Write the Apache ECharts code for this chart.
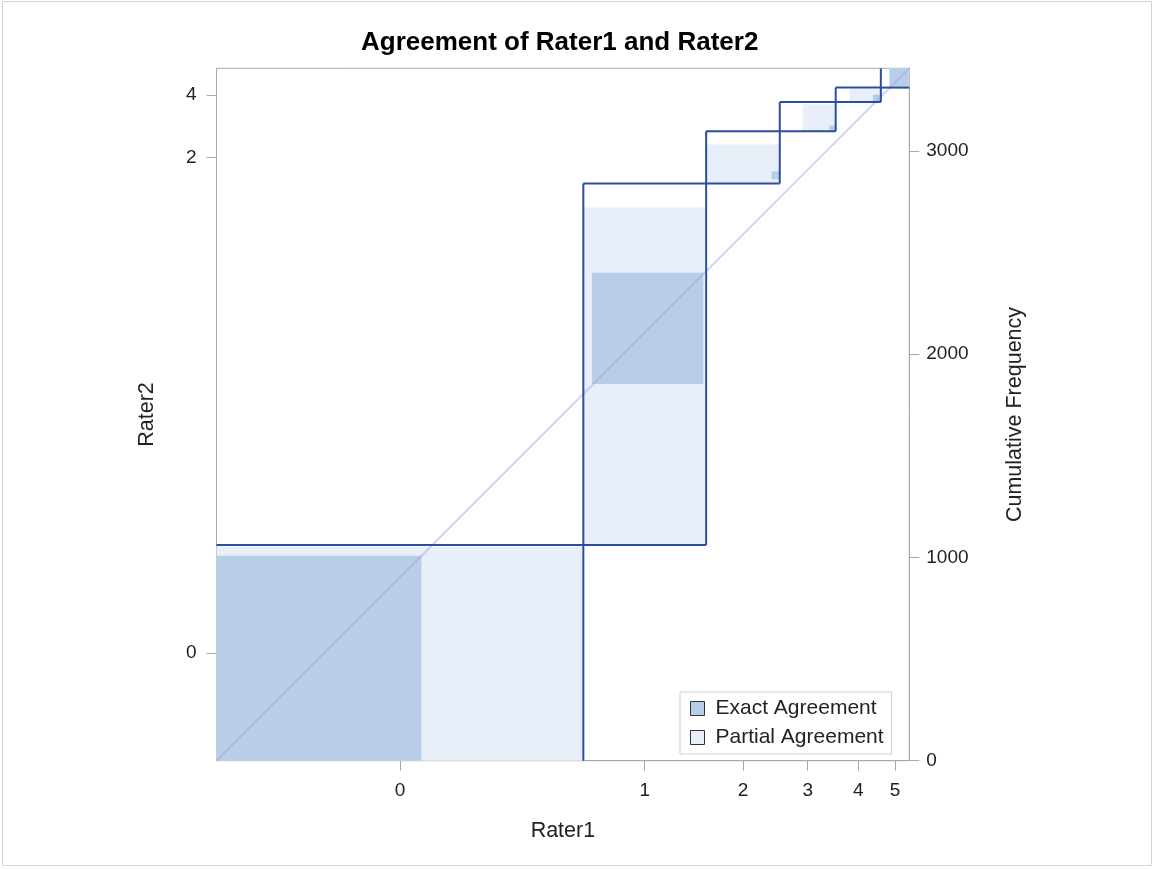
<!DOCTYPE html>
<html>
<head>
<meta charset="utf-8">
<script src="https://cdn.jsdelivr.net/npm/echarts@6/dist/echarts.min.js"></script>
<style>html,body{margin:0;padding:0;background:#fff}#c{width:1155px;height:869px}</style>
</head>
<body>
<div id="c"></div>
<script>
// Categories (rating levels)
var categories = ['0', '1', '2', '3', '4', '5'];
// Marginal totals: Rater1 (x) and Rater2 (y)
var rater1Totals = [1804, 604, 362, 275, 222, 140];
var rater2Totals = [1061, 1779, 257, 144, 71, 95];
// Exact agreement (diagonal cell counts) and their offsets inside each box
var exactCounts  = [1008, 548, 39, 29, 36, 95];
var exactOffsetX = [0, 42, 321, 244, 183, 42];
var exactOffsetY = [0, 792, 21, 0, 1, 0];
// Partial agreement extents inside each box (offsets from box corner)
var partialX0 = [0, 0, 0, 113, 68, 42];
var partialX1 = [1800, 599, 360, 273, 219, 140];
var partialY0 = [0, 0, 0, 0, 1, 0];
var partialY1 = [1053, 1661, 192, 132, 66, 95];
// Left axis shows only these category labels
var leftLabelCats = ['0', '2', '4'];
// Right axis tick labels
var cumTicks = [0, 1000, 2000, 3000];

var exactColor = '#b8cde6';
var partialColor = '#e8eff8';
var boxColor = '#2a4ca2';

function cumStarts(arr) { var s = [], c = 0; for (var i = 0; i < arr.length; i++) { s.push(c); c += arr[i]; } return s; }
var xStart = cumStarts(rater1Totals), yStart = cumStarts(rater2Totals);
var N = rater1Totals.reduce(function (a, b) { return a + b; }, 0);
var xMid = rater1Totals.map(function (t, i) { return xStart[i] + t / 2; });
var yMid = rater2Totals.map(function (t, i) { return yStart[i] + t / 2; });
var yMidShown = leftLabelCats.map(function (c) { return yMid[categories.indexOf(c)]; });

var boxData = categories.map(function (c, i) { return [xStart[i], yStart[i], xStart[i] + rater1Totals[i], yStart[i] + rater2Totals[i]]; });
var exactData = categories.map(function (c, i) {
  var x0 = xStart[i] + exactOffsetX[i], y0 = yStart[i] + exactOffsetY[i];
  return [x0, y0, x0 + exactCounts[i], y0 + exactCounts[i]];
});
var partialData = categories.map(function (c, i) {
  return [xStart[i] + partialX0[i], yStart[i] + partialY0[i], xStart[i] + partialX1[i], yStart[i] + partialY1[i]];
});

function fillRender(fill) {
  return function (params, api) {
    var p0 = api.coord([api.value(0), api.value(1)]);
    var p1 = api.coord([api.value(2), api.value(3)]);
    return {
      type: 'rect',
      shape: { x: Math.min(p0[0], p1[0]), y: Math.min(p0[1], p1[1]), width: Math.abs(p1[0] - p0[0]), height: Math.abs(p1[1] - p0[1]) },
      style: { fill: fill }
    };
  };
}

// Box outlines: edges lying on the plot frame are left to the (gray) frame
function boxRender(params, api) {
  var x0 = api.value(0), y0 = api.value(1), x1 = api.value(2), y1 = api.value(3);
  var a = api.coord([x0, y0]), b = api.coord([x1, y1]);
  var st = { stroke: boxColor, lineWidth: 2, fill: 'none' };
  var ch = [];
  function seg(p, q) { ch.push({ type: 'line', shape: { x1: p[0], y1: p[1], x2: q[0], y2: q[1] }, style: st }); }
  if (y0 > 0) seg([a[0], a[1]], [b[0], a[1]]);
  if (y1 < N) seg([a[0], b[1]], [b[0], b[1]]);
  if (x0 > 0) seg([a[0], a[1]], [a[0], b[1]]);
  if (x1 < N) seg([b[0], a[1]], [b[0], b[1]]);
  return { type: 'group', children: ch };
}

function findLabel(mids, v) {
  for (var i = 0; i < mids.length; i++) if (Math.abs(mids[i] - v) < 1e-6) return categories[i];
  return '';
}

var font = 'Liberation Sans';
var axisGray = '#a8a8a8';
var chart = echarts.init(document.getElementById('c'), null, { renderer: 'canvas' });
chart.setOption({
  animation: false,
  backgroundColor: '#fff',
  textStyle: { fontFamily: font },
  title: {
    text: 'Agreement of Rater1 and Rater2',
    left: 356, top: 25,
    textStyle: { fontFamily: font, fontWeight: 'bold', fontSize: 26, color: '#000' }
  },
  graphic: [{
    type: 'rect', silent: true,
    shape: { x: 2.5, y: 1.5, width: 1149, height: 864 },
    style: { fill: 'none', stroke: '#d4d4d4', lineWidth: 1 }
  }],
  grid: { left: 216.5, right: 245.7, top: 68.3, bottom: 108.3, show: true, borderColor: axisGray, borderWidth: 1, containLabel: false },
  legend: {
    orient: 'vertical', left: 680, top: 692,
    data: ['Exact Agreement', 'Partial Agreement'],
    icon: 'rect', itemWidth: 14, itemHeight: 14, itemGap: 8,
    padding: [6, 8, 6, 10],
    borderColor: '#d0d0d0', borderWidth: 1, backgroundColor: '#fff',
    itemStyle: { borderColor: '#333', borderWidth: 1 },
    textStyle: { fontFamily: font, fontSize: 21, color: '#222', padding: [0, 0, 0, 6] },
    selectedMode: false
  },
  xAxis: {
    type: 'value', min: 0, max: N,
    name: 'Rater1', nameLocation: 'middle', nameGap: 59,
    nameTextStyle: { fontFamily: font, fontSize: 21.5, color: '#222' },
    axisLine: { show: true, lineStyle: { color: axisGray, width: 1 } },
    axisTick: { show: true, length: 10, customValues: xMid, lineStyle: { color: axisGray } },
    axisLabel: { customValues: xMid, margin: 21, fontFamily: font, fontSize: 19, color: '#222', formatter: function (v) { return findLabel(xMid, v); } },
    splitLine: { show: false }
  },
  yAxis: [{
    type: 'value', min: 0, max: N, position: 'left',
    name: 'Rater2', nameLocation: 'middle', nameGap: 58, nameRotate: 90,
    nameTextStyle: { fontFamily: font, fontSize: 21.5, color: '#222' },
    axisLine: { show: true, lineStyle: { color: axisGray, width: 1 } },
    axisTick: { show: true, length: 10, customValues: yMidShown, lineStyle: { color: axisGray } },
    axisLabel: { customValues: yMidShown, margin: 20, fontFamily: font, fontSize: 19, color: '#222', formatter: function (v) { return findLabel(yMid, v); } },
    splitLine: { show: false }
  }, {
    type: 'value', min: 0, max: N, position: 'right',
    name: 'Cumulative Frequency', nameLocation: 'middle', nameGap: 95, nameRotate: 90,
    nameTextStyle: { fontFamily: font, fontSize: 21.5, color: '#222' },
    axisLine: { show: true, lineStyle: { color: axisGray, width: 1 } },
    axisTick: { show: true, length: 10, customValues: cumTicks, lineStyle: { color: axisGray } },
    axisLabel: { customValues: cumTicks, margin: 17, fontFamily: font, fontSize: 19, color: '#222', formatter: function (v) { return String(v); } },
    splitLine: { show: false }
  }],
  series: [{
    name: 'Partial Agreement', type: 'custom', silent: true, z: 1,
    itemStyle: { color: partialColor },
    renderItem: fillRender(partialColor),
    data: partialData
  }, {
    name: 'Exact Agreement', type: 'custom', silent: true, z: 2,
    itemStyle: { color: exactColor },
    renderItem: fillRender(exactColor),
    data: exactData
  }, {
    name: 'Diagonal', type: 'line', silent: true, z: 3,
    symbol: 'none',
    lineStyle: { color: 'rgba(150,165,230,0.45)', width: 2 },
    data: [[0, 0], [N, N]]
  }, {
    name: 'Boxes', type: 'custom', silent: true, z: 4,
    itemStyle: { color: boxColor },
    renderItem: boxRender,
    data: boxData
  }]
});
</script>
</body>
</html>
